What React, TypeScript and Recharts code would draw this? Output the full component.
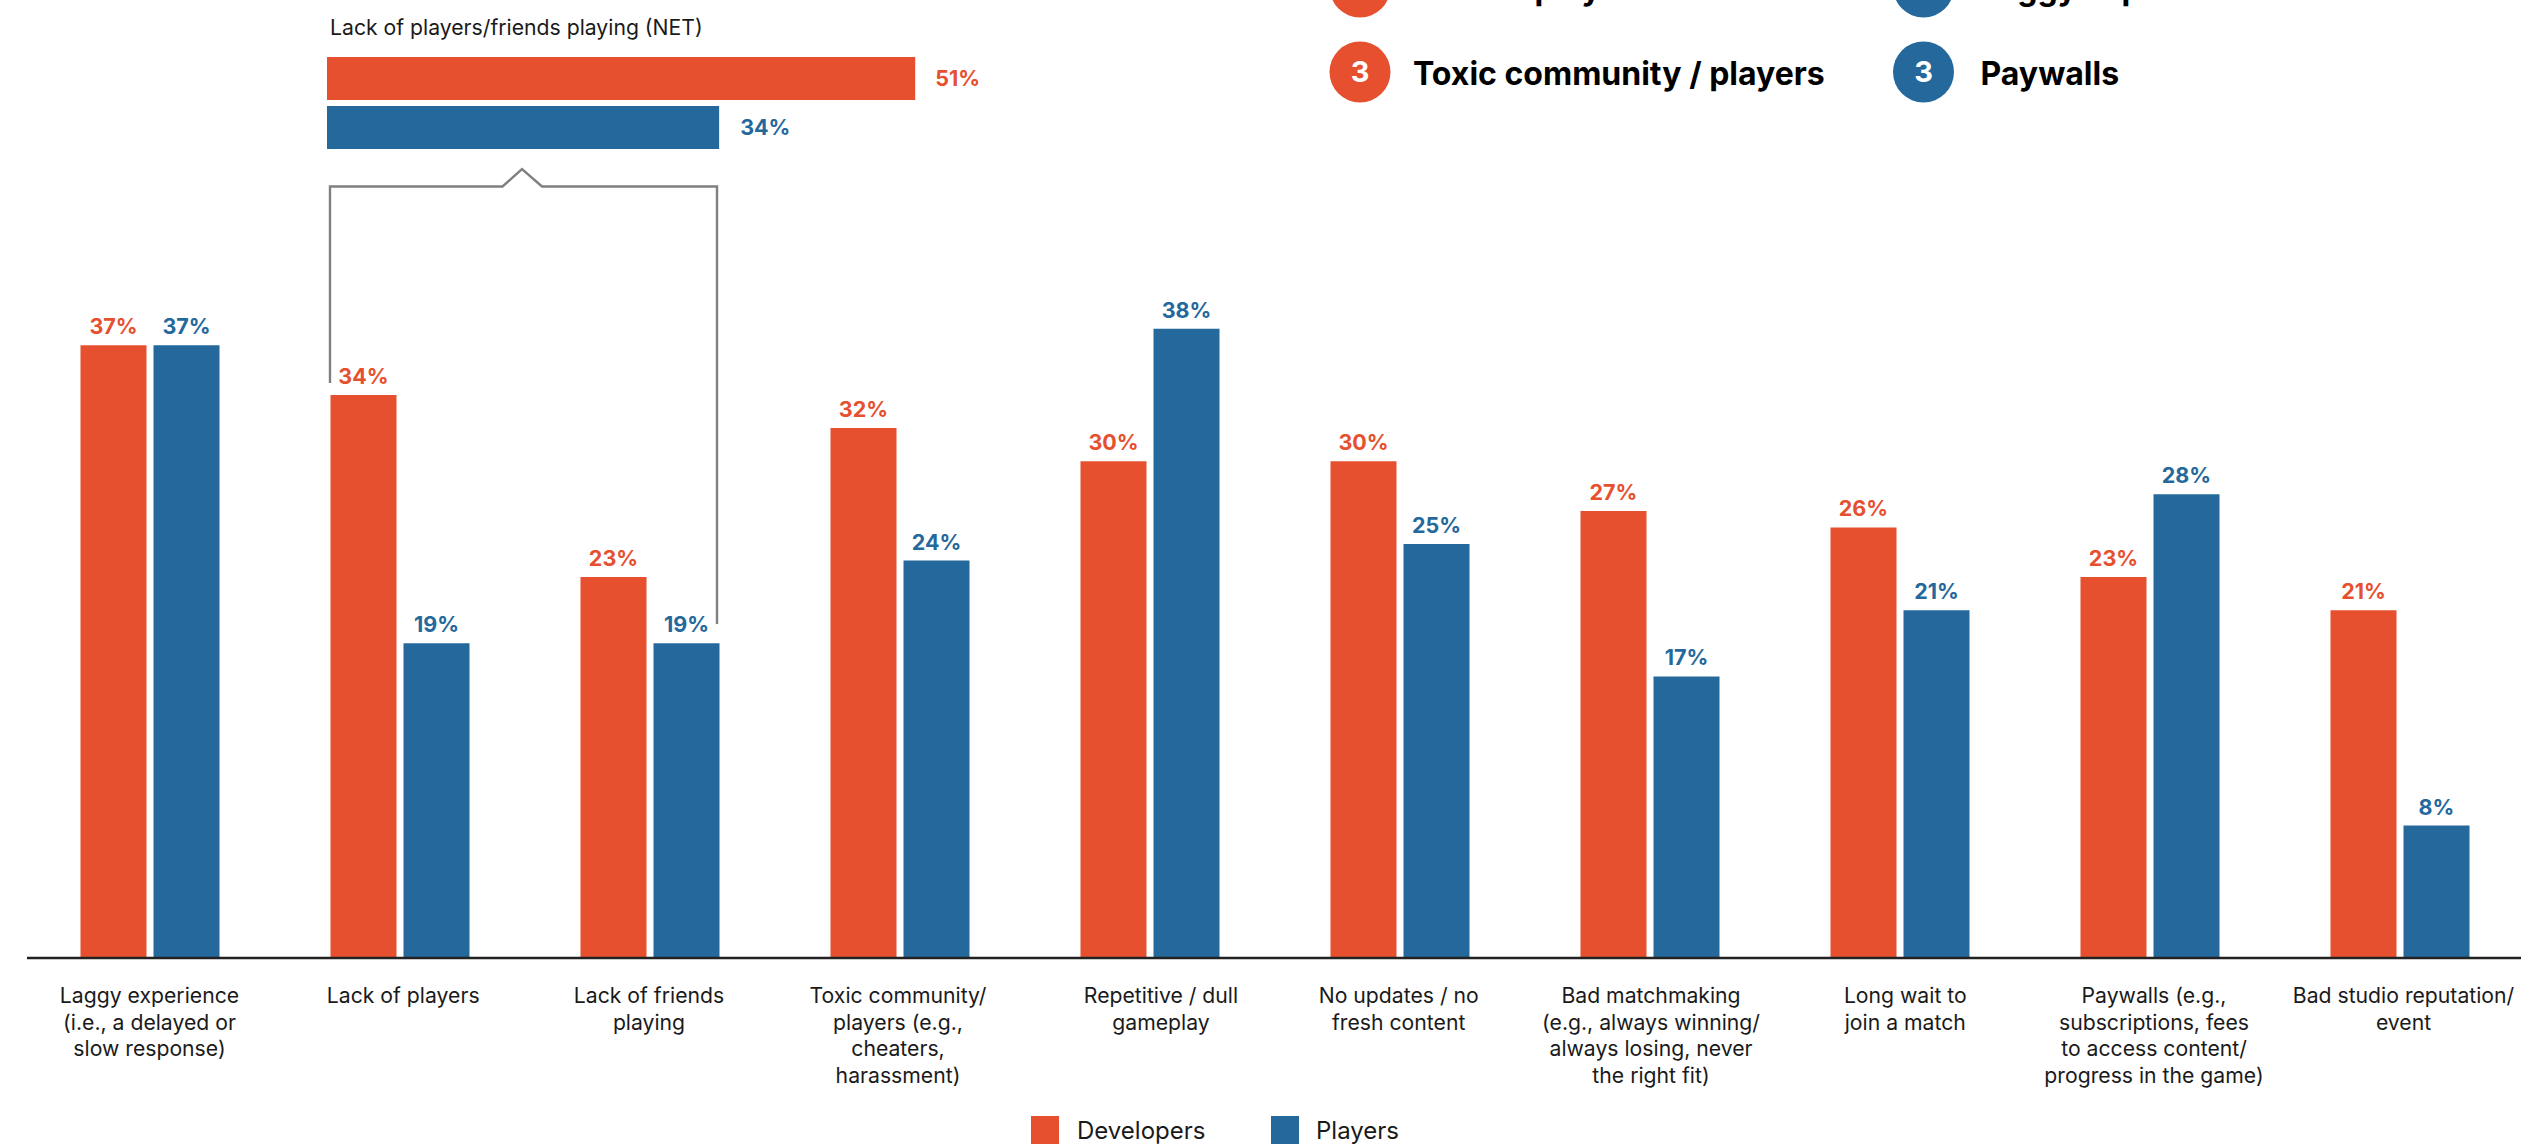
import React from 'react';
import { BarChart, Bar, XAxis, YAxis, LabelList, Legend } from 'recharts';

const RED = '#E6502F';
const BLUE = '#24689C';
const FONT = 'Inter, sans-serif';

const categories = [
  ['Laggy experience', '(i.e., a delayed or', 'slow response)'],
  ['Lack of players'],
  ['Lack of friends', 'playing'],
  ['Toxic community/', 'players (e.g.,', 'cheaters,', 'harassment)'],
  ['Repetitive / dull', 'gameplay'],
  ['No updates / no', 'fresh content'],
  ['Bad matchmaking', '(e.g., always winning/', 'always losing, never', 'the right fit)'],
  ['Long wait to', 'join a match'],
  ['Paywalls (e.g.,', 'subscriptions, fees', 'to access content/', 'progress in the game)'],
  ['Bad studio reputation/', 'event'],
];
const developers = [37, 34, 23, 32, 30, 30, 27, 26, 23, 21];
const players = [37, 19, 19, 24, 38, 25, 17, 21, 28, 8];

const netTitle = 'Lack of players/friends playing (NET)';
const netDevelopers = [51];
const netPlayers = [34];

const devRanks = ['Lack of players', 'Toxic community / players'];
const playerRanks = ['Laggy experience', 'Paywalls'];
const rankNumbers = ['2', '3'];

// the labels were set by hand and don't all sit dead centre under their bars
const tickNudge = [0, 3.7, -0.5, -1.5, 11.5, -0.8, 1.5, 5.8, 4.5, 4];

const chartData = categories.map((lines, i) => ({
  name: lines.join(' '),
  lines,
  developers: developers[i],
  players: players[i],
}));
const netData = [{ name: netTitle, developers: netDevelopers[0], players: netPlayers[0] }];

const percent = (v: any) => `${v}%`;

const CategoryTick = ({ x, y, index }: any) => (
  <text x={x} y={y} textAnchor="middle" fontFamily={FONT} fontSize={21.2} fill="#1a1a1a">
    {categories[index].map((line, i) => (
      <tspan key={line} x={x + tickNudge[index]} y={y + 37 + i * 26.6}>{line}</tspan>
    ))}
  </text>
);

const SwatchLegend = () => (
  <div style={{ position: 'relative', width: 400, height: 30, fontFamily: FONT, fontSize: 24, color: '#1a1a1a' }}>
    <span style={{ position: 'absolute', left: 0, top: 1, width: 28, height: 28, background: RED }} />
    <span style={{ position: 'absolute', left: 46, top: 2, lineHeight: '28px' }}>Developers</span>
    <span style={{ position: 'absolute', left: 240, top: 1, width: 28, height: 28, background: BLUE }} />
    <span style={{ position: 'absolute', left: 285, top: 2, lineHeight: '28px' }}>Players</span>
  </div>
);

// ranked call-outs along the top edge, the first row runs off the page
const RankColumn = ({ cx, labels, color, gap }: { cx: number; labels: string[]; color: string; gap: number }) => (
  <>
    {labels.map((label, i) => {
      const cy = -13 + i * 85;
      return (
        <g key={label}>
          <circle cx={cx} cy={cy} r={30.5} fill={color} />
          <text x={cx} y={cy + 10} textAnchor="middle" fontFamily={FONT} fontWeight={700} fontSize={29} fill="#fff">
            {rankNumbers[i]}
          </text>
          <text x={cx + gap} y={cy + 13} fontFamily={FONT} fontWeight={700} fontSize={32} fill="#000">
            {label}
          </text>
        </g>
      );
    })}
  </>
);

export default function App() {
  return (
    <div style={{ position: 'absolute', left: 0, top: 0, width: 2521, height: 1145, overflow: 'hidden', background: '#fff' }}>
      <div style={{ position: 'absolute', left: 0, top: 0 }}>
        <BarChart
          width={2600}
          height={1145}
          data={chartData}
          margin={{ top: 100, right: 75.5, left: 27, bottom: 0 }}
          barSize={66}
          barGap={7}
        >
          <XAxis
            dataKey="name"
            height={187}
            interval={0}
            padding={{ left: -2.5, right: 0 }}
            axisLine={{ stroke: '#222', strokeWidth: 2.4 }}
            tickLine={false}
            tick={<CategoryTick />}
          />
          <YAxis hide domain={[0, 50]} />
          <Legend
            verticalAlign="top"
            align="left"
            content={<SwatchLegend />}
            wrapperStyle={{ position: 'absolute', left: 1031, top: 1115, width: 400 }}
          />
          <Bar dataKey="developers" fill={RED} isAnimationActive={false}>
            <LabelList dataKey="developers" position="top" offset={11} formatter={percent} fill={RED} fontFamily={FONT} fontWeight={700} fontSize={21.5} />
          </Bar>
          <Bar dataKey="players" fill={BLUE} isAnimationActive={false}>
            <LabelList dataKey="players" position="top" offset={11} formatter={percent} fill={BLUE} fontFamily={FONT} fontWeight={700} fontSize={21.5} />
          </Bar>
        </BarChart>
      </div>

      <div style={{ position: 'absolute', left: 330, top: 14, fontFamily: FONT, fontSize: 21.2, lineHeight: '26px', color: '#1a1a1a', whiteSpace: 'nowrap' }}>
        {netTitle}
      </div>

      <div style={{ position: 'absolute', left: 327, top: 43 }}>
        <BarChart
          layout="vertical"
          width={692}
          height={120}
          data={netData}
          margin={{ top: 7, right: 0, left: 0, bottom: 7 }}
          barSize={43}
          barGap={6}
        >
          <XAxis type="number" hide domain={[0, 60]} />
          <YAxis type="category" dataKey="name" hide />
          <Bar dataKey="developers" fill={RED} isAnimationActive={false}>
            <LabelList dataKey="developers" position="right" offset={20} formatter={percent} fill={RED} fontFamily={FONT} fontWeight={700} fontSize={21.5} />
          </Bar>
          <Bar dataKey="players" fill={BLUE} isAnimationActive={false}>
            <LabelList dataKey="players" position="right" offset={21} formatter={percent} fill={BLUE} fontFamily={FONT} fontWeight={700} fontSize={21.5} />
          </Bar>
        </BarChart>
      </div>

      <svg width={2521} height={1145} style={{ position: 'absolute', left: 0, top: 0, pointerEvents: 'none' }}>
        {/* bracket joining the two "lack of" groups to the NET bars */}
        <path
          d="M330 383 V186.5 H502.5 L522 169 L542 186.5 H717 V624"
          fill="none"
          stroke="#808080"
          strokeWidth={2.4}
        />
        <RankColumn cx={1360} labels={devRanks} color={RED} gap={53} />
        <RankColumn cx={1923.5} labels={playerRanks} color={BLUE} gap={57} />
      </svg>
    </div>
  );
}
